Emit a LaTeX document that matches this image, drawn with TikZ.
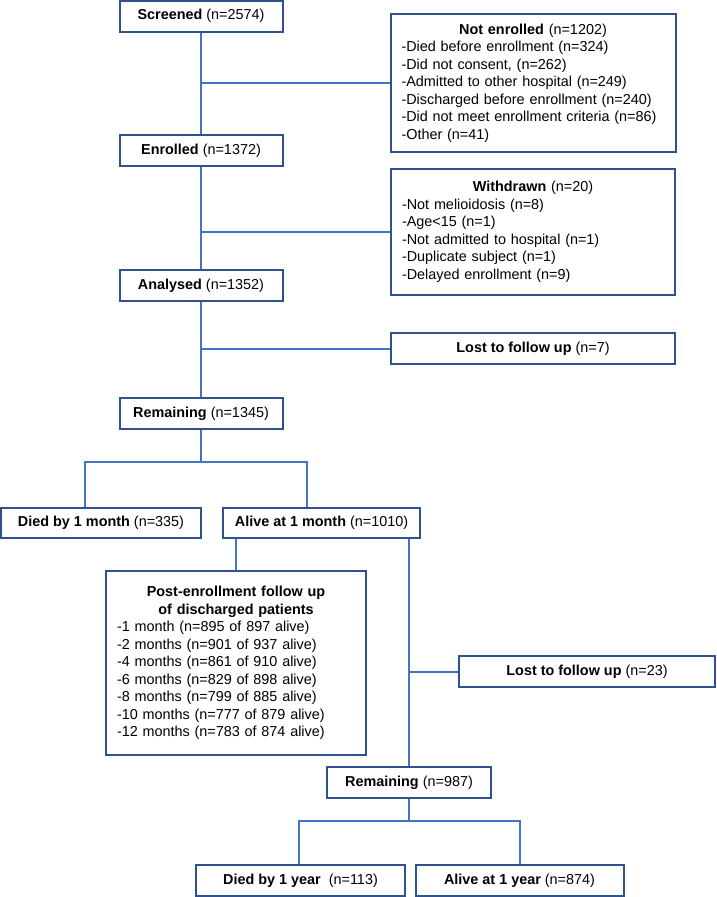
\documentclass[tikz,border=0pt]{standalone}
\usepackage{fontspec}
\setmainfont{Liberation Sans}
\definecolor{boxblue}{RGB}{47,82,143}
\definecolor{lineblue}{RGB}{68,114,196}

\begin{document}
\begin{tikzpicture}[x=1pt,y=-1pt,font=\fontsize{14.4}{17.5}\selectfont,
	box/.style={draw=boxblue,line width=2pt,minimum height=31pt,inner sep=0pt},
	list/.style={box,align=left,inner xsep=11pt},
	link/.style={draw=lineblue,line width=2pt}]
\useasboundingbox (0,0) rectangle (716,897);

\node[box,minimum width=163pt]   (scr)  at (201,16)      {\textbf{Screened} (n=2574)};
\node[list,text width=263pt,minimum height=138pt]   (notenr) at (533,83)
		{\makebox[\hsize]{\textbf{Not enrolled} (n=1202)}\\
		-Died before enrollment (n=324)\\
		-Did not consent, (n=262)\\
		-Admitted to other hospital (n=249)\\
		-Discharged before enrollment (n=240)\\
		-Did not meet enrollment criteria (n=86)\\
		-Other (n=41)};
\node[box,minimum width=163pt]   (enr)  at (201,150.5)   {\textbf{Enrolled} (n=1372)};
\node[list,text width=262pt,minimum height=126pt]   (wdr) at (533,232)
		{\makebox[\hsize]{\textbf{Withdrawn} (n=20)}\\
		-Not melioidosis (n=8)\\
		-Age<15 (n=1)\\
		-Not admitted to hospital (n=1)\\
		-Duplicate subject (n=1)\\
		-Delayed enrollment (n=9)};
\node[box,minimum width=163pt]   (anl)  at (201,285.5)   {\textbf{Analysed} (n=1352)};
\node[box,minimum width=284pt]   (lost1) at (533,348.5)  {\textbf{Lost to follow up} (n=7)};
\node[box,minimum width=163pt]   (rem1) at (201,413.5)   {\textbf{Remaining} (n=1345)};
\node[box,minimum width=200pt,minimum height=30pt]   (died1) at (101,523)   {\textbf{Died by 1 month} (n=335)};
\node[box,minimum width=197pt,minimum height=30pt]   (alive1) at (321.5,523) {\textbf{Alive at 1 month} (n=1010)};
\node[list,text width=238pt,minimum height=184pt]   (post) at (236,663)
		{\makebox[\hsize]{\textbf{Post-enrollment follow up}}\\
		\makebox[\hsize]{\textbf{of discharged patients}}\\
		-1 month (n=895 of 897 alive)\\
		-2 months (n=901 of 937 alive)\\
		-4 months (n=861 of 910 alive)\\
		-6 months (n=829 of 898 alive)\\
		-8 months (n=799 of 885 alive)\\
		-10 months (n=777 of 879 alive)\\
		-12 months (n=783 of 874 alive)};
\node[box,minimum width=256pt]   (lost2) at (587,671.5)  {\textbf{Lost to follow up} (n=23)};
\node[box,minimum width=164pt]   (rem2) at (409,782.5)   {\textbf{Remaining} (n=987)};
\node[box,minimum width=209pt]   (died2) at (300.5,880.5) {\textbf{Died by 1 year}~ (n=113)};
\node[box,minimum width=208pt]   (alive2) at (519.5,880.5) {\textbf{Alive at 1 year} (n=874)};

\coordinate (b1) at (scr.south |- notenr.west);
\coordinate (b2) at (enr.south |- wdr.west);
\coordinate (b3) at (anl.south |- lost1.west);
\coordinate (s1l) at (85,462);
\coordinate (s1r) at (307,462);
\coordinate (s2l) at (299,821);
\coordinate (s2r) at (520,821);

\draw[link] (scr) -- (enr)
		(b1) -- (notenr)
		(enr) -- (anl)
		(b2) -- (wdr)
		(anl) -- (rem1)
		(b3) -- (lost1);
\draw[link] (rem1) -- (rem1 |- s1l);
\draw[link] (s1l |- died1.north) -- (s1l) -- (s1r) -- (s1r |- alive1.north);
\draw[link] (post.north) -- (post.north |- alive1.south);
\draw[link] (rem2) -- (rem2 |- alive1.south);
\draw[link] (rem2 |- lost2) -- (lost2);
\draw[link] (rem2) -- (rem2 |- s2l);
\draw[link] (s2l |- died2.north) -- (s2l) -- (s2r) -- (s2r |- alive2.north);
\end{tikzpicture}
\end{document}
